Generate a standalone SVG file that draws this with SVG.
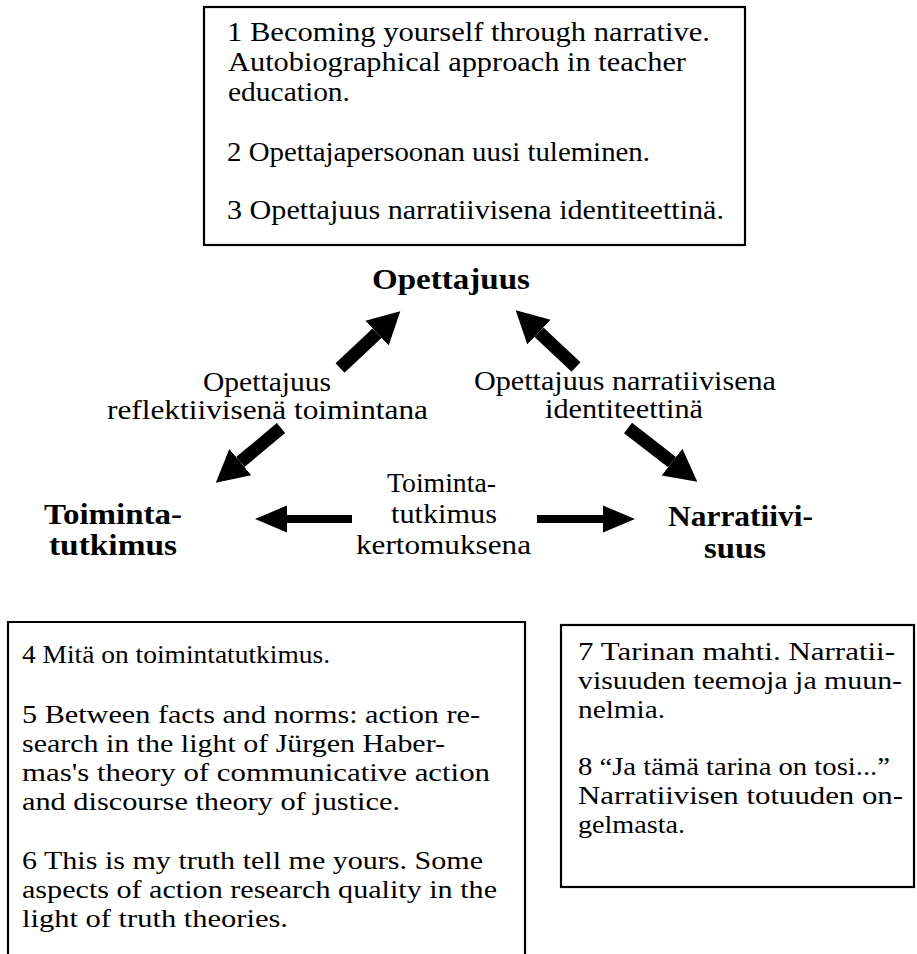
<svg xmlns="http://www.w3.org/2000/svg" width="917" height="954" viewBox="0 0 917 954">
  <style>
    .box { fill: #ffffff; stroke: #000000; stroke-width: 2.2; }
    .txt { font-family: "Liberation Serif", "Times New Roman", serif; font-size: 27px; fill: #000000; }
    .sm { font-family: "Liberation Serif", "Times New Roman", serif; font-size: 26px; fill: #000000; }
    .lbl { font-family: "Liberation Serif", "Times New Roman", serif; font-size: 27px; fill: #000000; }
    .hd { font-family: "Liberation Serif", "Times New Roman", serif; font-size: 30px; font-weight: bold; fill: #000000; }
    .diag { stroke: #000000; stroke-width: 13; fill: none; marker-end: url(#headBig); }
    .horiz { stroke: #000000; stroke-width: 8; fill: none; marker-end: url(#headFlat); }
  </style>
  <defs>
    <marker id="headBig" markerUnits="userSpaceOnUse" markerWidth="34" markerHeight="40" refX="0" refY="20" viewBox="0 0 34 40" orient="auto">
      <path d="M0,3 L32,20 L0,37 z" fill="#000000"/>
    </marker>
    <marker id="headFlat" markerUnits="userSpaceOnUse" markerWidth="34" markerHeight="30" refX="0" refY="15" viewBox="0 0 34 30" orient="auto">
      <path d="M0,1.5 L32,15 L0,28.5 z" fill="#000000"/>
    </marker>
  </defs>

  <rect width="917" height="954" fill="#ffffff"/>

  <!-- publications on teacherhood -->
  <g id="box-opettajuus">
    <rect class="box" x="204" y="7" width="541" height="238"/>
    <text class="txt" x="227" y="41" textLength="483" lengthAdjust="spacingAndGlyphs">1 Becoming yourself through narrative.</text>
    <text class="txt" x="228" y="71" textLength="458" lengthAdjust="spacingAndGlyphs">Autobiographical approach in teacher</text>
    <text class="txt" x="228" y="101" textLength="122" lengthAdjust="spacingAndGlyphs">education.</text>
    <text class="txt" x="227" y="161" textLength="423" lengthAdjust="spacingAndGlyphs">2 Opettajapersoonan uusi tuleminen.</text>
    <text class="txt" x="227" y="219" textLength="497" lengthAdjust="spacingAndGlyphs">3 Opettajuus narratiivisena identiteettinä.</text>
  </g>

  <!-- triangle corners -->
  <g id="node-opettajuus">
    <text class="hd" x="372" y="289" font-size="31" textLength="158" lengthAdjust="spacingAndGlyphs">Opettajuus</text>
  </g>
  <g id="node-toimintatutkimus">
    <text class="hd" x="44" y="524" textLength="138" lengthAdjust="spacingAndGlyphs">Toiminta-</text>
    <text class="hd" x="49" y="555" textLength="128" lengthAdjust="spacingAndGlyphs">tutkimus</text>
  </g>
  <g id="node-narratiivisuus">
    <text class="hd" x="668" y="526" textLength="145" lengthAdjust="spacingAndGlyphs">Narratiivi-</text>
    <text class="hd" x="704" y="558" textLength="62" lengthAdjust="spacingAndGlyphs">suus</text>
  </g>

  <!-- edge labels -->
  <g id="label-reflektiivinen">
    <text class="lbl" x="203" y="391" textLength="128" lengthAdjust="spacingAndGlyphs">Opettajuus</text>
    <text class="lbl" x="107" y="419" textLength="321" lengthAdjust="spacingAndGlyphs">reflektiivisenä   toimintana</text>
  </g>
  <g id="label-narratiivinen">
    <text class="lbl" x="474" y="390" textLength="302" lengthAdjust="spacingAndGlyphs">Opettajuus narratiivisena</text>
    <text class="lbl" x="545" y="418" textLength="158" lengthAdjust="spacingAndGlyphs">identiteettinä</text>
  </g>
  <g id="label-kertomus">
    <text class="lbl" x="387" y="492" textLength="109" lengthAdjust="spacingAndGlyphs">Toiminta-</text>
    <text class="lbl" x="391" y="523" textLength="106" lengthAdjust="spacingAndGlyphs">tutkimus</text>
    <text class="lbl" x="356" y="554" textLength="175" lengthAdjust="spacingAndGlyphs">kertomuksena</text>
  </g>

  <!-- arrows between the corners -->
  <g id="connectors">
    <line class="diag" x1="340" y1="368" x2="377.0" y2="333.2"/>
    <line class="diag" x1="576" y1="367" x2="539.0" y2="332.2"/>
    <line class="diag" x1="281" y1="428" x2="240.3" y2="462.1"/>
    <line class="diag" x1="628" y1="428" x2="672.0" y2="462.1"/>
    <line class="horiz" x1="352" y1="519" x2="287" y2="519"/>
    <line class="horiz" x1="537" y1="519" x2="603" y2="519"/>
  </g>

  <!-- publications on action research -->
  <g id="box-toimintatutkimus">
    <path class="box" d="M8,960 L8,622 L525,622 L525,960"/>
    <text class="sm" x="22" y="663" textLength="308" lengthAdjust="spacingAndGlyphs">4 Mitä on toimintatutkimus.</text>
    <text class="sm" x="22" y="723" textLength="458" lengthAdjust="spacingAndGlyphs">5 Between facts and norms: action re-</text>
    <text class="sm" x="22" y="752" textLength="423" lengthAdjust="spacingAndGlyphs">search in the light of Jürgen Haber-</text>
    <text class="sm" x="22" y="781" textLength="468" lengthAdjust="spacingAndGlyphs">mas's theory of communicative action</text>
    <text class="sm" x="22" y="810" textLength="378" lengthAdjust="spacingAndGlyphs">and discourse theory of justice.</text>
    <text class="sm" x="22" y="869" textLength="461" lengthAdjust="spacingAndGlyphs">6 This is my truth tell me yours. Some</text>
    <text class="sm" x="22" y="898" textLength="475" lengthAdjust="spacingAndGlyphs">aspects of action research quality in the</text>
    <text class="sm" x="22" y="927" textLength="266" lengthAdjust="spacingAndGlyphs">light of truth theories.</text>
  </g>

  <!-- publications on narrativity -->
  <g id="box-narratiivisuus">
    <rect class="box" x="561" y="625" width="353" height="262"/>
    <text class="sm" x="578" y="660" textLength="317" lengthAdjust="spacingAndGlyphs">7 Tarinan mahti.  Narratii-</text>
    <text class="sm" x="578" y="689" textLength="324" lengthAdjust="spacingAndGlyphs">visuuden teemoja ja muun-</text>
    <text class="sm" x="578" y="718" textLength="87" lengthAdjust="spacingAndGlyphs">nelmia.</text>
    <text class="sm" x="578" y="775" textLength="312" lengthAdjust="spacingAndGlyphs">8 “Ja tämä tarina on tosi...”</text>
    <text class="sm" x="578" y="804" textLength="325" lengthAdjust="spacingAndGlyphs">Narratiivisen totuuden on-</text>
    <text class="sm" x="578" y="833" textLength="107" lengthAdjust="spacingAndGlyphs">gelmasta.</text>
  </g>
</svg>
